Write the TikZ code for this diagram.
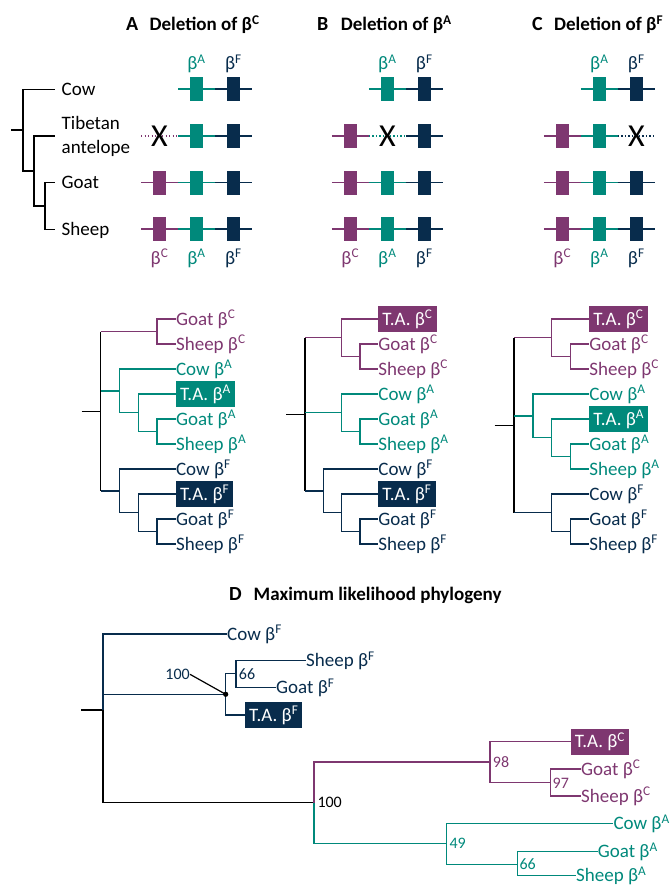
\documentclass[tikz,border=0pt]{standalone}
\usepackage{fontspec}
\setmainfont{Carlito}
\usetikzlibrary{positioning}

\definecolor{betaC}{RGB}{126,55,112}
\definecolor{betaA}{RGB}{0,137,123}
\definecolor{betaF}{RGB}{8,44,76}

\begin{document}
\begin{tikzpicture}[x=1pt, y=-1pt,
    branch/.style={line width=1.4pt},
    lbl/.style={font=\fontsize{19}{22}\selectfont, inner sep=0pt, text height=15pt, text depth=3pt},
    leaf/.style={lbl, anchor=west},
    tabox/.style={lbl, anchor=west, text=white, inner xsep=4pt, inner ysep=4pt},
    sp/.style={lbl, anchor=west, inner xsep=6.5pt},
    gene/.style={minimum width=13pt, minimum height=24pt, inner sep=0pt},
    gline/.style={line width=1.6pt},
    lost/.style={line width=1.3pt, dash pattern=on 1.2pt off 2.3pt},
    cross/.style={font=\fontsize{32}{32}\selectfont, inner sep=0pt},
    panel/.style={font=\bfseries\fontsize{20}{22}\selectfont, inner sep=0pt, anchor=west, text height=14pt, text depth=4pt},
    ttl/.style={font=\bfseries\fontsize{19}{21}\selectfont, inner sep=0pt, text height=14pt, text depth=4pt},
    boot/.style={font=\fontsize{16}{18}\selectfont, inner sep=0pt, anchor=west, text height=10pt, text depth=0pt}
]
\useasboundingbox (0,0) rectangle (670,885);

% Titles
\node[panel] (pA) at (126,26) {A};
\node[ttl, right=11pt of pA] (tA) {Deletion of β\textsuperscript{C}};
\node[panel] (pB) at (317,26) {B};
\node[ttl, right=12pt of pB] (tB) {Deletion of β\textsuperscript{A}};
\node[panel] (pC) at (532,26) {C};
\node[ttl, right=11pt of pC] (tC) {Deletion of β\textsuperscript{F}};
\node[panel] (pD) at (229,595) {D};
\node[ttl, right=11.5pt of pD] (tD) {Maximum likelihood phylogeny};

% Species tree
\coordinate (spRoot) at (11,130.2);
\coordinate (spN1) at (23,130.2);
\coordinate (spN2) at (34,171);
\coordinate (spN3) at (45,206);
\node[sp] (spCow) at (55,89.3) {Cow};
\coordinate (spTA) at (55,136);
\node[sp] (spTib) at (55,123.5) {Tibetan};
\node[sp] (spAnt) at (55,148) {antelope};
\node[sp] (spGoat) at (55,182.7) {Goat};
\node[sp] (spSheep) at (55,229.3) {Sheep};
\draw[branch] (spRoot) -- (spN1);
\draw[branch] (spN1) |- (spCow.west);
\draw[branch] (spN1) |- (spN2);
\draw[branch] (spN2) |- (spTA);
\draw[branch] (spN2) |- (spN3);
\draw[branch] (spN3) |- (spGoat.west);
\draw[branch] (spN3) |- (spSheep.west);

% Gene clusters: betaC at \x, betaA at \x+37, betaF at \x+74
\foreach \p/\x in {A/159.5, B/350.3, C/562.3}{
  \node[lbl, text=betaA] (top\p-A) at (\x+37,64) {β\textsuperscript{A}};
  \node[lbl, text=betaF] (top\p-F) at (\x+74,64) {β\textsuperscript{F}};
  \node[lbl, text=betaC] (bot\p-C) at (\x,258) {β\textsuperscript{C}};
  \node[lbl, text=betaA] (bot\p-A) at (\x+37,258) {β\textsuperscript{A}};
  \node[lbl, text=betaF] (bot\p-F) at (\x+74,258) {β\textsuperscript{F}};
  % cow: no betaC
  \draw[gline, betaA] (\x+18.5,89.3) -- (\x+55.5,89.3);
  \draw[gline, betaF] (\x+55.5,89.3) -- (\x+92.5,89.3);
  \node[gene, fill=betaA] (cow\p-A) at (\x+37,89.3) {};
  \node[gene, fill=betaF] (cow\p-F) at (\x+74,89.3) {};
  % goat and sheep: all three
  \foreach \r/\y in {goat/182.7, sheep/229.3}{
    \draw[gline, betaC] (\x-18.5,\y) -- (\x+18.5,\y);
    \draw[gline, betaA] (\x+18.5,\y) -- (\x+55.5,\y);
    \draw[gline, betaF] (\x+55.5,\y) -- (\x+92.5,\y);
    \node[gene, fill=betaC] (\r\p-C) at (\x,\y) {};
    \node[gene, fill=betaA] (\r\p-A) at (\x+37,\y) {};
    \node[gene, fill=betaF] (\r\p-F) at (\x+74,\y) {};
  }
}

% Tibetan antelope rows
% A: betaC lost
\draw[lost, betaC] (141,136) -- (178,136);
\draw[gline, betaA] (178,136) -- (215,136);
\draw[gline, betaF] (215,136) -- (252,136);
\node[gene, fill=betaA] (taA-A) at (196.5,136) {};
\node[gene, fill=betaF] (taA-F) at (233.5,136) {};
\node[cross] (xA) at (159.5,136) {X};
% B: betaA lost
\draw[gline, betaC] (331.8,136) -- (368.8,136);
\draw[lost, betaA] (368.8,136) -- (405.8,136);
\draw[gline, betaF] (405.8,136) -- (442.8,136);
\node[gene, fill=betaC] (taB-C) at (350.3,136) {};
\node[gene, fill=betaF] (taB-F) at (424.3,136) {};
\node[cross] (xB) at (387.3,136) {X};
% C: betaF lost
\draw[gline, betaC] (543.8,136) -- (580.8,136);
\draw[gline, betaA] (580.8,136) -- (617.8,136);
\draw[lost, betaF] (617.8,136) -- (654.8,136);
\node[gene, fill=betaC] (taC-C) at (562.3,136) {};
\node[gene, fill=betaA] (taC-A) at (599.3,136) {};
\node[cross] (xC) at (636.3,136) {X};

% Tree A (deletion of betaC)
\node[leaf, text=betaC] (aGoatC) at (175.9,319) {Goat β\textsuperscript{C}};
\node[leaf, text=betaC] (aSheepC) at (175.9,344) {Sheep β\textsuperscript{C}};
\node[leaf, text=betaA] (aCowA) at (175.9,369) {Cow β\textsuperscript{A}};
\node[tabox, fill=betaA] (aTAA) at (175.9,394) {T.A. β\textsuperscript{A}};
\node[leaf, text=betaA] (aGoatA) at (175.9,419) {Goat β\textsuperscript{A}};
\node[leaf, text=betaA] (aSheepA) at (175.9,444) {Sheep β\textsuperscript{A}};
\node[leaf, text=betaF] (aCowF) at (175.9,469) {Cow β\textsuperscript{F}};
\node[tabox, fill=betaF] (aTAF) at (175.9,494) {T.A. β\textsuperscript{F}};
\node[leaf, text=betaF] (aGoatF) at (175.9,519) {Goat β\textsuperscript{F}};
\node[leaf, text=betaF] (aSheepF) at (175.9,544) {Sheep β\textsuperscript{F}};
\coordinate (aS) at (81.7,411.2);
\coordinate (aR) at (100.7,411.2);
\coordinate (aC1) at (157.1,331.5);
\coordinate (aA1) at (119.5,390.9);
\coordinate (aA2) at (138.3,412.75);
\coordinate (aA3) at (157.1,431.5);
\coordinate (aF1) at (119.5,490.9);
\coordinate (aF2) at (138.3,512.75);
\coordinate (aF3) at (157.1,531.5);
\draw[branch] (aS) -- (aR);
\draw[branch] (aR |- aC1) -- (aR |- aF1);
\draw[branch, betaC] (aR |- aC1) -- (aC1);
\draw[branch, betaC] (aC1) |- (aGoatC.west);
\draw[branch, betaC] (aC1) |- (aSheepC.west);
\draw[branch, betaA] (aR |- aA1) -- (aA1);
\draw[branch, betaA] (aA1) |- (aCowA.west);
\draw[branch, betaA] (aA1) |- (aA2);
\draw[branch, betaA] (aA2) |- (aTAA.west);
\draw[branch, betaA] (aA2) |- (aA3);
\draw[branch, betaA] (aA3) |- (aGoatA.west);
\draw[branch, betaA] (aA3) |- (aSheepA.west);
\draw[branch, betaF] (aR |- aF1) -- (aF1);
\draw[branch, betaF] (aF1) |- (aCowF.west);
\draw[branch, betaF] (aF1) |- (aF2);
\draw[branch, betaF] (aF2) |- (aTAF.west);
\draw[branch, betaF] (aF2) |- (aF3);
\draw[branch, betaF] (aF3) |- (aGoatF.west);
\draw[branch, betaF] (aF3) |- (aSheepF.west);

% Tree B (deletion of betaA)
\node[tabox, fill=betaC] (bTAC) at (378.2,319) {T.A. β\textsuperscript{C}};
\node[leaf, text=betaC] (bGoatC) at (378.2,344) {Goat β\textsuperscript{C}};
\node[leaf, text=betaC] (bSheepC) at (378.2,369) {Sheep β\textsuperscript{C}};
\node[leaf, text=betaA] (bCowA) at (378.2,394) {Cow β\textsuperscript{A}};
\node[leaf, text=betaA] (bGoatA) at (378.2,419) {Goat β\textsuperscript{A}};
\node[leaf, text=betaA] (bSheepA) at (378.2,444) {Sheep β\textsuperscript{A}};
\node[leaf, text=betaF] (bCowF) at (378.2,469) {Cow β\textsuperscript{F}};
\node[tabox, fill=betaF] (bTAF) at (378.2,494) {T.A. β\textsuperscript{F}};
\node[leaf, text=betaF] (bGoatF) at (378.2,519) {Goat β\textsuperscript{F}};
\node[leaf, text=betaF] (bSheepF) at (378.2,544) {Sheep β\textsuperscript{F}};
\coordinate (bS) at (286,414.3);
\coordinate (bR) at (305,414.3);
\coordinate (bC1) at (341.6,337.75);
\coordinate (bC2) at (359.9,356.5);
\coordinate (bA1) at (341.6,412.75);
\coordinate (bA2) at (359.9,431.5);
\coordinate (bF1) at (323.3,490.9);
\coordinate (bF2) at (341.6,512.75);
\coordinate (bF3) at (359.9,531.5);
\draw[branch] (bS) -- (bR);
\draw[branch] (bR |- bC1) -- (bR |- bF1);
\draw[branch, betaC] (bR |- bC1) -- (bC1);
\draw[branch, betaC] (bC1) |- (bTAC.west);
\draw[branch, betaC] (bC1) |- (bC2);
\draw[branch, betaC] (bC2) |- (bGoatC.west);
\draw[branch, betaC] (bC2) |- (bSheepC.west);
\draw[branch, betaA] (bR |- bA1) -- (bA1);
\draw[branch, betaA] (bA1) |- (bCowA.west);
\draw[branch, betaA] (bA1) |- (bA2);
\draw[branch, betaA] (bA2) |- (bGoatA.west);
\draw[branch, betaA] (bA2) |- (bSheepA.west);
\draw[branch, betaF] (bR |- bF1) -- (bF1);
\draw[branch, betaF] (bF1) |- (bCowF.west);
\draw[branch, betaF] (bF1) |- (bF2);
\draw[branch, betaF] (bF2) |- (bTAF.west);
\draw[branch, betaF] (bF2) |- (bF3);
\draw[branch, betaF] (bF3) |- (bGoatF.west);
\draw[branch, betaF] (bF3) |- (bSheepF.west);

% Tree C (deletion of betaF)
\node[tabox, fill=betaC] (cTAC) at (589.2,319) {T.A. β\textsuperscript{C}};
\node[leaf, text=betaC] (cGoatC) at (589.2,344) {Goat β\textsuperscript{C}};
\node[leaf, text=betaC] (cSheepC) at (589.2,369) {Sheep β\textsuperscript{C}};
\node[leaf, text=betaA] (cCowA) at (589.2,394) {Cow β\textsuperscript{A}};
\node[tabox, fill=betaA] (cTAA) at (589.2,419) {T.A. β\textsuperscript{A}};
\node[leaf, text=betaA] (cGoatA) at (589.2,444) {Goat β\textsuperscript{A}};
\node[leaf, text=betaA] (cSheepA) at (589.2,469) {Sheep β\textsuperscript{A}};
\node[leaf, text=betaF] (cCowF) at (589.2,494) {Cow β\textsuperscript{F}};
\node[leaf, text=betaF] (cGoatF) at (589.2,519) {Goat β\textsuperscript{F}};
\node[leaf, text=betaF] (cSheepF) at (589.2,544) {Sheep β\textsuperscript{F}};
\coordinate (cS) at (494.7,425.25);
\coordinate (cR) at (514,425.25);
\coordinate (cC1) at (551.6,337.75);
\coordinate (cC2) at (570.4,356.5);
\coordinate (cA1) at (532.8,415.9);
\coordinate (cA2) at (551.6,437.75);
\coordinate (cA3) at (570.4,456.5);
\coordinate (cF1) at (551.6,512.75);
\coordinate (cF2) at (570.4,531.5);
\draw[branch] (cS) -- (cR);
\draw[branch] (cR |- cC1) -- (cR |- cF1);
\draw[branch, betaC] (cR |- cC1) -- (cC1);
\draw[branch, betaC] (cC1) |- (cTAC.west);
\draw[branch, betaC] (cC1) |- (cC2);
\draw[branch, betaC] (cC2) |- (cGoatC.west);
\draw[branch, betaC] (cC2) |- (cSheepC.west);
\draw[branch, betaA] (cR |- cA1) -- (cA1);
\draw[branch, betaA] (cA1) |- (cCowA.west);
\draw[branch, betaA] (cA1) |- (cA2);
\draw[branch, betaA] (cA2) |- (cTAA.west);
\draw[branch, betaA] (cA2) |- (cA3);
\draw[branch, betaA] (cA3) |- (cGoatA.west);
\draw[branch, betaA] (cA3) |- (cSheepA.west);
\draw[branch, betaF] (cR |- cF1) -- (cF1);
\draw[branch, betaF] (cF1) |- (cCowF.west);
\draw[branch, betaF] (cF1) |- (cF2);
\draw[branch, betaF] (cF2) |- (cGoatF.west);
\draw[branch, betaF] (cF2) |- (cSheepF.west);

% D: maximum likelihood tree
\coordinate (dS) at (81,710);
\coordinate (dR) at (103,710);
\coordinate (dFB) at (225.7,694.3);
\coordinate (dFC) at (236,673.3);
\coordinate (dB) at (314,802.7);
\coordinate (dP1) at (490,762.1);
\coordinate (dP2) at (550.7,782.5);
\coordinate (dT1) at (446.7,843.7);
\coordinate (dT2) at (517.3,864.2);
\node[leaf, text=betaF] (dCowF) at (227,634) {Cow β\textsuperscript{F}};
\node[leaf, text=betaF] (dSheepF) at (306,660.7) {Sheep β\textsuperscript{F}};
\node[leaf, text=betaF] (dGoatF) at (276,687.3) {Goat β\textsuperscript{F}};
\node[tabox, fill=betaF] (dTAF) at (245,715) {T.A. β\textsuperscript{F}};
\node[tabox, fill=betaC] (dTAC) at (570.7,741.7) {T.A. β\textsuperscript{C}};
\node[leaf, text=betaC] (dGoatC) at (581,769) {Goat β\textsuperscript{C}};
\node[leaf, text=betaC] (dSheepC) at (581,796) {Sheep β\textsuperscript{C}};
\node[leaf, text=betaA] (dCowA) at (613.3,823.3) {Cow β\textsuperscript{A}};
\node[leaf, text=betaA] (dGoatA) at (597.7,851.7) {Goat β\textsuperscript{A}};
\node[leaf, text=betaA] (dSheepA) at (576,875.5) {Sheep β\textsuperscript{A}};
% support values
\node[boot, text=betaF, anchor=east] (sF100) at (190,674.3) {100};
\node[boot, text=betaF] (sF66) at (238.7,674.3) {66};
\node[boot] (sRoot) at (317.3,802.7) {100};
\node[boot, text=betaC] (sC98) at (492.7,762.1) {98};
\node[boot, text=betaC] (sC97) at (552.5,783) {97};
\node[boot, text=betaA] (sA49) at (449.3,843.7) {49};
\node[boot, text=betaA] (sA66) at (519.3,864.2) {66};
\draw[branch] (dS) -- (dR);
\draw[branch, betaF] (dR) |- (dCowF.west);
\draw[branch, betaF] (dR |- dFB) -- (dFB);
\draw[branch] (dR) |- (dB);
\draw[branch, betaF] (dFB) |- (dFC);
\draw[branch, betaF] (dFB) |- (dTAF.west);
\draw[branch, betaF] (dFC) |- (dSheepF.west);
\draw[branch, betaF] (dFC) |- (dGoatF.west);
\fill (dFB) circle (2.6);
\draw[line width=1.2pt] (sF100.east) -- (dFB);
\draw[branch, betaC] (dB) |- (dP1);
\draw[branch, betaC] (dP1) |- (dTAC.west);
\draw[branch, betaC] (dP1) |- (dP2);
\draw[branch, betaC] (dP2) |- (dGoatC.west);
\draw[branch, betaC] (dP2) |- (dSheepC.west);
\draw[branch, betaA] (dB) |- (dT1);
\draw[branch, betaA] (dT1) |- (dCowA.west);
\draw[branch, betaA] (dT1) |- (dT2);
\draw[branch, betaA] (dT2) |- (dGoatA.west);
\draw[branch, betaA] (dT2) |- (dSheepA.west);

\end{tikzpicture}
\end{document}
